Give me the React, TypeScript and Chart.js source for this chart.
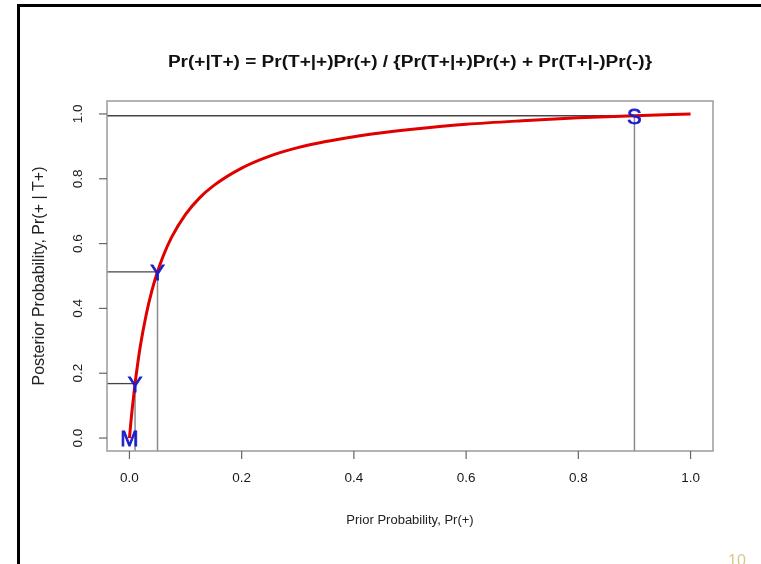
import React, { useEffect, useRef } from "react";
import { Chart, registerables } from "chart.js";

Chart.register(...registerables);

const titleText = "Pr(+|T+) = Pr(T+|+)Pr(+) / {Pr(T+|+)Pr(+) + Pr(T+|-)Pr(-)}";
const xAxisTitle = "Prior Probability, Pr(+)";
const yAxisTitle = "Posterior Probability, Pr(+ | T+)";
const tickValues = [0, 0.2, 0.4, 0.6, 0.8, 1.0];
const tickLabels = ["0.0", "0.2", "0.4", "0.6", "0.8", "1.0"];

const priorX = [0, 0.0025, 0.005, 0.01, 0.015, 0.02, 0.03, 0.04, 0.05, 0.06, 0.075, 0.1, 0.125, 0.15, 0.2, 0.25, 0.3, 0.35, 0.4, 0.45, 0.5, 0.6, 0.7, 0.8, 0.9, 1.0];
const posteriorY = [0, 0.048, 0.091, 0.168, 0.233, 0.29, 0.382, 0.455, 0.513, 0.561, 0.619, 0.69, 0.741, 0.779, 0.833, 0.87, 0.896, 0.915, 0.93, 0.942, 0.952, 0.968, 0.979, 0.988, 0.9945, 1.0];

const markerLabels = ["M", "Y", "Y", "S"];
const markerX = [0, 0.01, 0.05, 0.9];
const markerY = [0, 0.168, 0.513, 0.9945];
const guideIndex = [1, 2, 3];

const AXIS_MIN = -0.04;
const AXIS_MAX = 1.04;
const pageNumber = "10";

export default function App() {
  const ref = useRef<HTMLCanvasElement | null>(null);
  useEffect(() => {
    if (!ref.current) return;
    const datasets: any[] = [];
    guideIndex.forEach((i) => {
      datasets.push({
        data: [{ x: markerX[i], y: AXIS_MIN }, { x: markerX[i], y: markerY[i] }],
        borderColor: "#8a8a8a",
        borderWidth: 1.5,
        pointRadius: 0,
        order: 3,
      });
      datasets.push({
        data: [{ x: AXIS_MIN, y: markerY[i] }, { x: markerX[i], y: markerY[i] }],
        borderColor: "#444444",
        borderWidth: 1.3,
        pointRadius: 0,
        order: 3,
      });
    });
    datasets.push({
      data: priorX.map((x, i) => ({ x, y: posteriorY[i] })),
      borderColor: "#e00000",
      borderWidth: 3,
      pointRadius: 0,
      cubicInterpolationMode: "monotone",
      order: 1,
    });

    const deco = {
      id: "deco",
      afterDatasetsDraw(chart: any) {
        const ctx = chart.ctx;
        const xs = chart.scales.x;
        const ys = chart.scales.y;
        const a = chart.chartArea;
        ctx.save();
        // outer slide border
        ctx.fillStyle = "#000";
        ctx.fillRect(17, 4, 761 - 17, 3);
        ctx.fillRect(17, 4, 3, 564);
        // plot box
        ctx.strokeStyle = "#9a9a9a";
        ctx.lineWidth = 1.5;
        ctx.strokeRect(a.left, a.top, a.right - a.left, a.bottom - a.top);
        // ticks
        ctx.strokeStyle = "#666";
        ctx.lineWidth = 1.2;
        ctx.fillStyle = "#1a1a1a";
        ctx.font = "13.5px 'Liberation Sans', Arial, sans-serif";
        tickValues.forEach((v, i) => {
          const px = xs.getPixelForValue(v);
          ctx.beginPath();
          ctx.moveTo(px, a.bottom);
          ctx.lineTo(px, a.bottom + 8);
          ctx.stroke();
          ctx.textAlign = "center";
          ctx.textBaseline = "middle";
          ctx.fillText(tickLabels[i], px, 478);
          const py = ys.getPixelForValue(v);
          ctx.beginPath();
          ctx.moveTo(a.left, py);
          ctx.lineTo(a.left - 8, py);
          ctx.stroke();
          ctx.save();
          ctx.translate(78, py);
          ctx.rotate(-Math.PI / 2);
          ctx.fillText(tickLabels[i], 0, 0);
          ctx.restore();
        });
        // axis titles
        ctx.fillStyle = "#222";
        ctx.font = "13px 'Liberation Sans', Arial, sans-serif";
        ctx.textAlign = "center";
        ctx.textBaseline = "middle";
        ctx.fillText(xAxisTitle, (a.left + a.right) / 2, 520);
        ctx.save();
        ctx.font = "16px 'Liberation Sans', Arial, sans-serif";
        ctx.translate(40, (a.top + a.bottom) / 2);
        ctx.rotate(-Math.PI / 2);
        ctx.fillText(yAxisTitle, 0, 0);
        ctx.restore();
        // title
        ctx.save();
        ctx.fillStyle = "#111";
        ctx.font = "bold 16px 'Liberation Sans', Arial, sans-serif";
        ctx.translate((a.left + a.right) / 2, 63);
        ctx.scale(1.19, 1);
        ctx.fillText(titleText, 0, 0);
        ctx.restore();
        // markers
        ctx.fillStyle = "#1c1ccc";
        ctx.strokeStyle = "#1c1ccc";
        ctx.lineWidth = 0.8;
        ctx.font = "22px 'Liberation Sans', Arial, sans-serif";
        ctx.textAlign = "center";
        ctx.textBaseline = "alphabetic";
        markerLabels.forEach((m, i) => {
          const px = xs.getPixelForValue(markerX[i]);
          const py = ys.getPixelForValue(markerY[i]) + 8;
          ctx.fillText(m, px, py);
          ctx.strokeText(m, px, py);
        });
        // page number
        ctx.fillStyle = "#d8c888";
        ctx.font = "16px 'Liberation Sans', Arial, sans-serif";
        ctx.fillText(pageNumber, 737, 566);
        ctx.restore();
      },
    };

    const chart = new Chart(ref.current, {
      type: "line",
      data: { datasets },
      options: {
        animation: false,
        responsive: false,
        events: [],
        layout: { padding: { left: 107, right: 48, top: 101, bottom: 113 } },
        plugins: { legend: { display: false }, tooltip: { enabled: false }, title: { display: false } },
        scales: {
          x: { type: "linear", min: AXIS_MIN, max: AXIS_MAX, display: false },
          y: { type: "linear", min: AXIS_MIN, max: AXIS_MAX, display: false },
        },
      },
      plugins: [deco],
    });
    return () => chart.destroy();
  }, []);
  return (
    <div style={{ position: "fixed", left: 0, top: 0, width: 761, height: 564, background: "#fff" }}>
      <canvas ref={ref} width={761} height={564} style={{ width: 761, height: 564, display: "block" }} />
    </div>
  );
}
